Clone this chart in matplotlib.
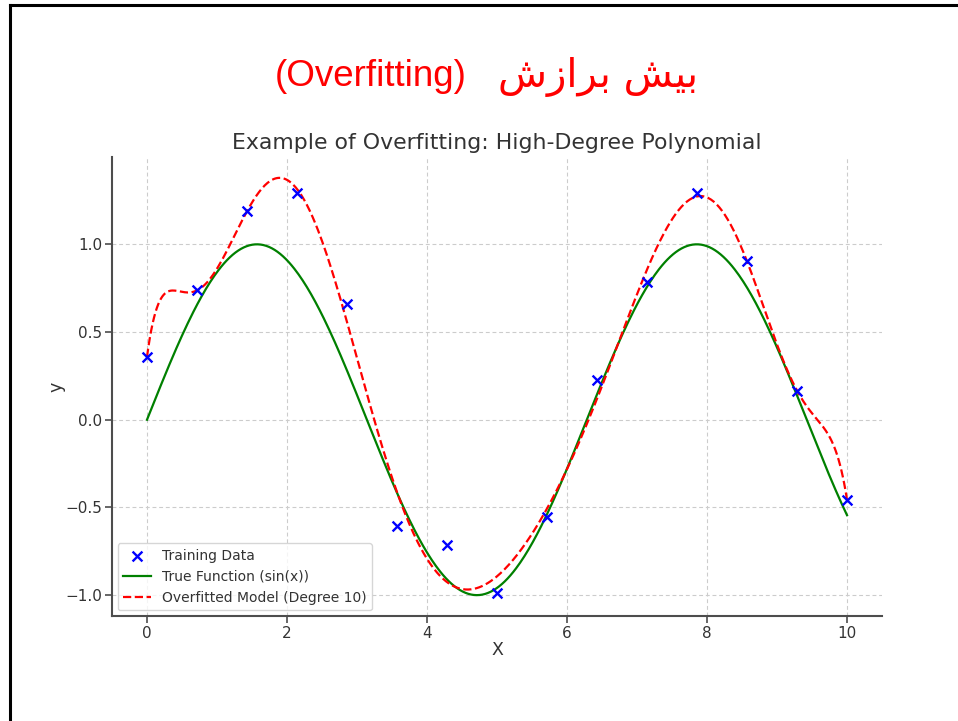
import numpy as np
import matplotlib
matplotlib.use("Agg")
import matplotlib.pyplot as plt
from matplotlib.lines import Line2D

# ---- data ----
x_train = [0.0, 0.714, 1.429, 2.143, 2.857, 3.571, 4.286, 5.0,
           5.714, 6.429, 7.143, 7.857, 8.571, 9.286, 10.0]
y_train = [0.358, 0.739, 1.188, 1.290, 0.659, -0.608, -0.716, -0.989,
           -0.557, 0.227, 0.784, 1.295, 0.903, 0.165, -0.455]
degree = 10
x_min, x_max = 0.0, 10.0

title_latin = "(Overfitting)"
# Persian "بیش برازش" written with presentation forms in visual (left-to-right) order
title_persian = "\uFEB5\uFEAF\uFE8D\uFEAE\uFE91" + " " + "\uFEB6\uFEF4\uFE91"
chart_title = "Example of Overfitting: High-Degree Polynomial"
x_label = "X"
y_label = "y"
legend_labels = ["Training Data", "True Function (sin(x))", "Overfitted Model (Degree 10)"]

# ---- derived curves ----
xs = np.linspace(x_min, x_max, 500)
true_y = np.sin(xs)
model = np.polynomial.Polynomial.fit(np.array(x_train), np.array(y_train), degree)
fit_y = model(xs)

fig = plt.figure(figsize=(9.58, 7.21), dpi=100)
fig.patch.set_facecolor("white")

# slide border (top and left edges)
W, H = 958, 721
fig.add_artist(Line2D([10 / W, 1.0], [1 - 5 / H, 1 - 5 / H], color="black", lw=2.2,
                      transform=fig.transFigure))
fig.add_artist(Line2D([10 / W, 10 / W], [0.0, 1 - 5 / H], color="black", lw=2.2,
                      transform=fig.transFigure))

# page title
fig.text(467 / W, 1 - 77 / H, title_latin, color="#ff0000", fontsize=26.5,
         family=["Liberation Sans", "DejaVu Sans"], ha="right", va="center")
fig.text(498 / W, 1 - 77 / H, title_persian, color="#ff0000", fontsize=29,
         family=["DejaVu Sans"], ha="left", va="center")

ax = fig.add_axes([112 / W, 1 - 616 / H, (882 - 112) / W, (616 - 157) / H])

ax.scatter(x_train, y_train, marker="x", color="blue", s=50, linewidths=1.7,
           label=legend_labels[0], zorder=3)
ax.plot(xs, true_y, color="green", lw=1.6, label=legend_labels[1])
ax.plot(xs, fit_y, color="red", lw=1.6, ls="--", label=legend_labels[2])

ax.set_title(chart_title, fontsize=15.8, color="#333333", pad=6)
ax.set_xlabel(x_label, fontsize=12.5, color="#333333", labelpad=0)
ax.set_ylabel(y_label, fontsize=12.5, color="#333333", labelpad=0)

ax.grid(True, ls=(0, (3.5, 2.5)), color="#cccccc", lw=0.8)
ax.set_axisbelow(True)
for s in ["top", "right"]:
    ax.spines[s].set_visible(False)
for s in ["left", "bottom"]:
    ax.spines[s].set_color("#4d4d4d")
    ax.spines[s].set_linewidth(1.5)
ax.tick_params(axis="both", labelsize=11, labelcolor="#333333", color="#4d4d4d",
               length=5, width=1.2, direction="out", pad=2)
ax.set_xticks([0, 2, 4, 6, 8, 10])
ax.set_yticks([-1.0, -0.5, 0.0, 0.5, 1.0])

leg = ax.legend(loc="lower left", fontsize=10, frameon=True, framealpha=0.8,
                edgecolor="#cccccc", borderaxespad=0.4)
for t in leg.get_texts():
    t.set_color("#333333")

fig.savefig("out.png", dpi=100)
